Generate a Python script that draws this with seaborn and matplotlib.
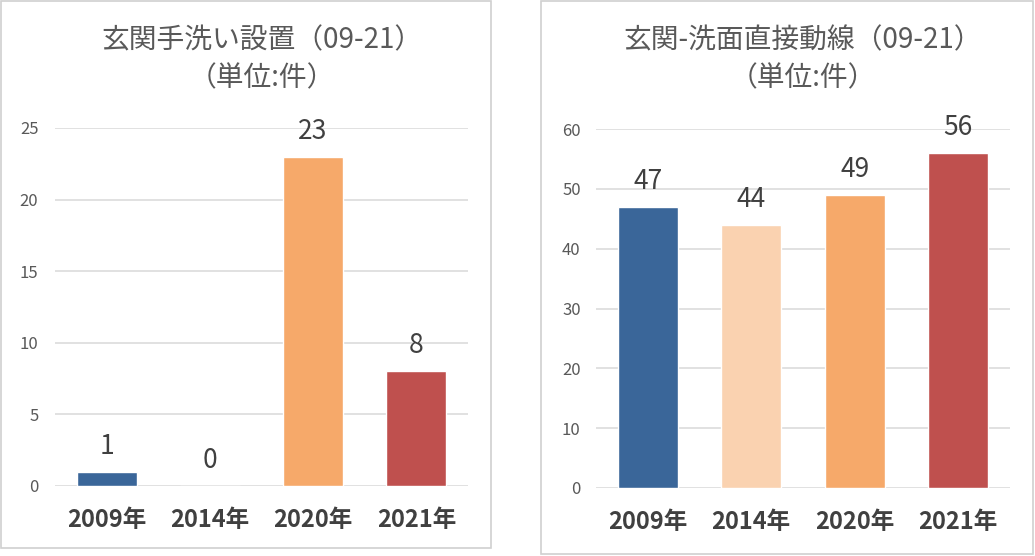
import matplotlib
matplotlib.use("Agg")
import matplotlib.pyplot as plt
import seaborn as sns
import pandas as pd
from matplotlib.patches import Rectangle

sns.set_theme(style="white")
plt.rcParams['font.family'] = ['Noto Sans CJK JP', 'DejaVu Sans']

categories = ["2009年", "2014年", "2020年", "2021年"]
handwash_values = [1, 0, 23, 8]
direct_route_values = [47, 44, 49, 56]
colors = ["#3A6699", "#FAD2B0", "#F6A96A", "#BF504E"]
title_left = ["玄関手洗い設置（09-21）", "（単位:件）"]
title_right = ["玄関-洗面直接動線（09-21）", "（単位:件）"]

W, H = 1035, 556
fig = plt.figure(figsize=(W / 100, H / 100), dpi=100)
fig.patch.set_facecolor("white")

# panel borders
for (x0, y0, x1, y1) in [(1, 1, 491, 548), (541, 1, 1033, 554)]:
    fig.add_artist(Rectangle((x0 / W, 1 - y1 / H), (x1 - x0) / W, (y1 - y0) / H,
                             transform=fig.transFigure, fill=False,
                             edgecolor="#D0D0D0", linewidth=1.2))


def draw(rect, values, ymax, step, titles, ypad):
    ax = fig.add_axes(rect)
    df = pd.DataFrame({"cat": categories, "val": values})
    sns.barplot(data=df, x="cat", y="val", hue="cat", palette=colors,
                legend=False, width=0.58, ax=ax, saturation=1)
    ax.set_ylim(0, ymax)
    ax.set_yticks(range(0, ymax + 1, step))
    ax.set_xlabel("")
    ax.set_ylabel("")
    for s in ax.spines.values():
        s.set_visible(False)
    ax.grid(axis="y", color="#D9D9D9", linewidth=1.1)
    ax.set_axisbelow(True)
    ax.tick_params(axis="y", length=0, pad=ypad, labelsize=12, labelcolor="#595959")
    ax.tick_params(axis="x", length=0, pad=16, labelsize=17, labelcolor="#404040")
    for lbl in ax.get_xticklabels():
        lbl.set_fontweight("bold")
    for i, v in enumerate(values):
        ax.annotate(str(v), (i, v), xytext=(0, 13), textcoords="offset points",
                    ha="center", va="baseline", fontsize=19, color="#404040")
    cx = rect[0] + rect[2] / 2
    fig.text(cx, 1 - 40 / H, titles[0], ha="center", va="center",
             fontsize=20, color="#595959")
    fig.text(cx, 1 - 78 / H, titles[1], ha="center", va="center",
             fontsize=20, color="#595959")
    return ax


draw([55 / W, (H - 486) / H, 413 / W, 358 / H], handwash_values, 25, 5, title_left, 12)
draw([596 / W, (H - 488) / H, 414 / W, 359 / H], direct_route_values, 60, 10, title_right, 11)

fig.savefig("out.png", dpi=100)
